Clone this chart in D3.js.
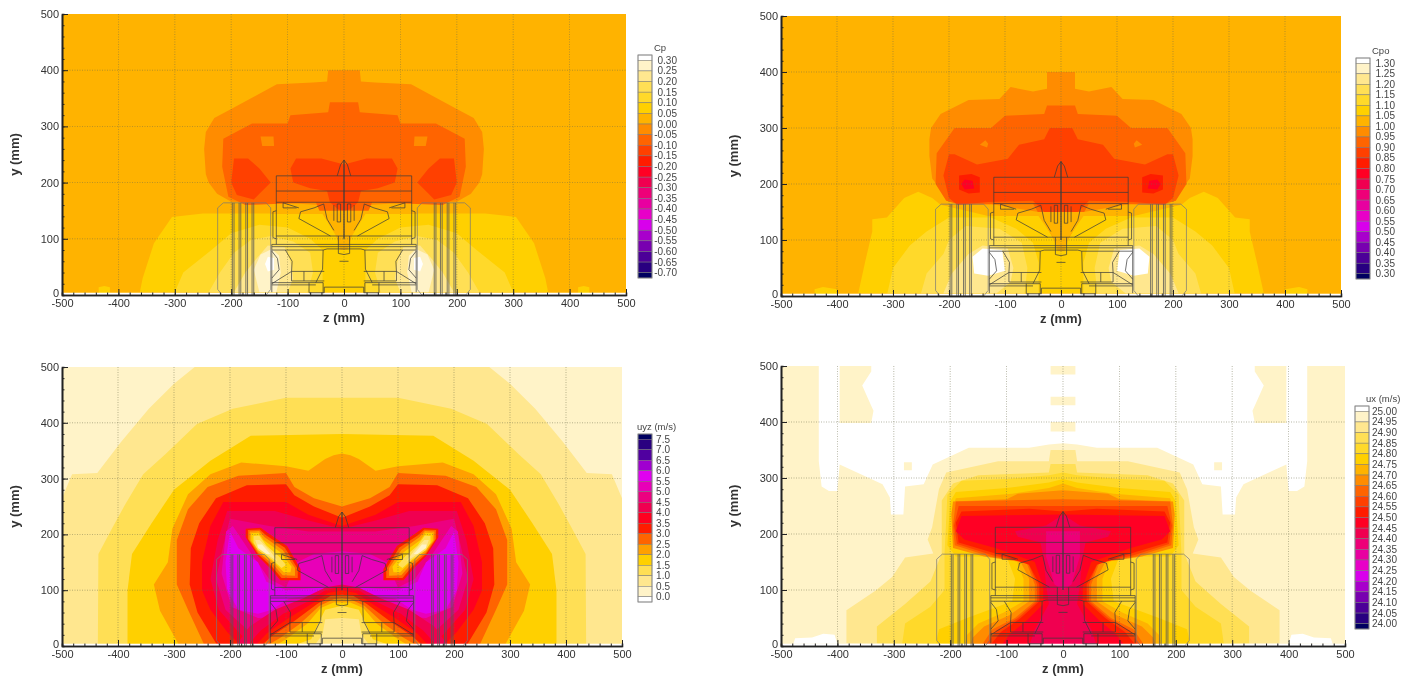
<!DOCTYPE html>
<html>
<head>
<meta charset="utf-8">
<script src="https://d3js.org/d3.v7.min.js"></script>
<style>
body { margin: 0; background: #fff; }
svg { display: block; filter: blur(0.4px); font-family: "Liberation Sans", Arial, sans-serif; }
.field { filter: blur(0.7px); }
.gridline { stroke: #6b6b4a; stroke-width: 0.7; stroke-dasharray: 1 1.5; opacity: .7; }
.xAxis path, .yAxis path { stroke: #222; stroke-width: 1.6; }
.xAxis line, .yAxis line { stroke: #222; }
.tickLabels text { fill: #333; }
</style>
</head>
<body>
<div id="rys"></div>
<script>
// tick values
var zTicks = [-500, -400, -300, -200, -100, 0, 100, 200, 300, 400, 500];
var yTicks = [0, 100, 200, 300, 400, 500];
var zMinor = d3.range(-500, 501, 20);
var yMinor = d3.range(0, 501, 20);

// legend levels, top to bottom
var cpLevels  = ["0.30","0.25","0.20","0.15","0.10","0.05","0.00","-0.05","-0.10","-0.15","-0.20","-0.25","-0.30","-0.35","-0.40","-0.45","-0.50","-0.55","-0.60","-0.65","-0.70"];
var cpoLevels = ["1.30","1.25","1.20","1.15","1.10","1.05","1.00","0.95","0.90","0.85","0.80","0.75","0.70","0.65","0.60","0.55","0.50","0.45","0.40","0.35","0.30"];
var uyzLevels = ["7.5","7.0","6.5","6.0","5.5","5.0","4.5","4.0","3.5","3.0","2.5","2.0","1.5","1.0","0.5","0.0"];
var uxLevels  = ["25.00","24.95","24.90","24.85","24.80","24.75","24.70","24.65","24.60","24.55","24.50","24.45","24.40","24.35","24.30","24.25","24.20","24.15","24.10","24.05","24.00"];

var warmToCold = ["#ffffff","#fff3c8","#ffe78f","#ffdf55","#ffd92a","#ffd000","#ffb300","#ff8c00","#ff6400","#ff4000","#ff1c00","#ff0024","#f00050","#ee0078","#e800a0","#e800c8","#d800ec","#a800cc","#7800b0","#4c0098","#280080","#000060"];
var coldToWarm = ["#000060","#2a0080","#5000a0","#a000d0","#e000f0","#e800b8","#ec0080","#f00050","#ff0020","#ff1c00","#ff6400","#ffa000","#ffd000","#ffdf55","#ffe78f","#fff3c8","#ffffff"];

// contours: right half outlines [z, y], mirrored at draw time. level = upper edge of the band
var cpContours = [
  { level: "0.05", outline: [[0,500],[500,500],[500,0],[0,0]] },
  { level: "0.10", outline: [[415,0],[415,14],[425,16],[435,14],[435,0]] },
  { level: "0.00", outline: [[0,400],[28,400],[30,380],[55,378],[119,375],[150,358],[200,331],[230,315],[245,290],[248,260],[245,215],[240,200],[225,180],[200,166],[130,165],[40,160],[30,130],[10,100],[0,95]] },
  { level: "-0.05", outline: [[0,343],[25,343],[28,325],[95,320],[100,305],[163,305],[214,278],[216,228],[205,175],[175,160],[50,165],[35,130],[12,120],[0,115]] },
  { level: "0.00", outline: [[124,265],[145,265],[148,282],[125,282]] },
  { level: "-0.10", outline: [[0,232],[40,243],[85,243],[95,225],[90,200],[60,190],[30,185],[25,165],[10,152],[0,150]] },
  { level: "-0.10", outline: [[170,243],[195,243],[200,200],[190,178],[160,170],[150,180],[130,200],[150,225]] },
  { level: "0.10", outline: [[0,100],[8,100],[18,125],[38,145],[130,145],[250,145],[305,139],[337,92],[357,30],[362,5],[0,5]] },
  { level: "0.05", outline: [[0,150],[40,150],[130,150],[130,144],[38,144],[14,105],[6,80],[0,80]] },
  { level: "0.15", outline: [[300,5],[285,40],[235,80],[200,110],[150,125],[100,120],[60,100],[38,80],[38,5]] },
  { level: "0.20", outline: [[240,5],[220,40],[195,75],[165,98],[130,105],[90,95],[60,75],[55,40],[65,5]] },
  { level: "0.25", outline: [[195,5],[175,40],[155,65],[135,88],[105,85],[95,60],[90,30],[100,5]] },
  { level: "0.30", outline: [[150,5],[160,45],[148,72],[128,82],[115,70],[112,40],[120,5]] },
  { level: null, outline: [[124,45],[135,42],[140,55],[135,68],[124,66]] }
];

var cpoContours = [
  { level: "1.05", outline: [[0,500],[500,500],[500,0],[0,0]] },
  { level: "1.10", outline: [[400,0],[400,12],[425,16],[440,12],[440,0]] },
  { level: "1.00", outline: [[0,400],[25,400],[25,370],[50,365],[90,373],[110,352],[165,350],[215,325],[232,300],[235,280],[235,250],[230,210],[215,190],[205,172],[130,165],[40,150],[15,100],[0,95]] },
  { level: "0.95", outline: [[0,340],[25,340],[30,325],[100,322],[125,300],[190,300],[222,255],[224,200],[205,170],[180,163],[50,165],[30,130],[0,125]] },
  { level: "0.90", outline: [[0,300],[20,300],[30,280],[75,270],[95,245],[150,235],[190,253],[200,253],[210,215],[200,175],[185,163],[130,168],[50,170],[30,150],[0,145]] },
  { level: "1.00", outline: [[132,265],[145,270],[135,278],[130,272]] },
  { level: "0.85", outline: [[145,185],[165,183],[182,190],[182,215],[160,218],[145,212]] },
  { level: "0.80", outline: [[155,192],[172,190],[178,200],[172,208],[158,206]] },
  { level: "1.10", outline: [[0,100],[12,100],[30,130],[40,143],[130,143],[215,163],[230,175],[255,186],[280,175],[311,140],[337,137],[337,115],[350,60],[362,5],[0,5]] },
  { level: "1.05", outline: [[0,150],[40,150],[125,150],[125,143],[40,143],[14,105],[6,80],[0,80]] },
  { level: "1.15", outline: [[310,5],[300,50],[270,90],[240,115],[200,140],[125,140],[80,120],[50,95],[40,60],[40,5]] },
  { level: "1.20", outline: [[250,5],[240,40],[210,75],[200,100],[170,125],[110,120],[70,95],[60,50],[65,5]] },
  { level: "1.25", outline: [[210,5],[195,40],[165,75],[140,90],[95,85],[85,50],[90,25],[115,5]] },
  { level: null, outline: [[100,45],[130,36],[155,40],[158,70],[140,85],[105,82]] }
];

var uyzContours = [
  { level: "0.5", outline: [[0,500],[500,500],[500,0],[0,0]] },
  { level: "1.0", outline: [[0,500],[263,500],[300,470],[345,425],[395,365],[437,310],[482,308],[500,265],[500,0],[0,0]] },
  { level: "1.5", outline: [[0,445],[100,445],[195,425],[259,398],[315,344],[355,308],[387,254],[410,212],[435,165],[436,0],[0,0]] },
  { level: "2.0", outline: [[0,380],[163,377],[235,332],[300,280],[340,220],[375,165],[383,100],[383,0],[0,0]] },
  { level: "2.5", outline: [[0,345],[15,342],[30,335],[60,314],[100,322],[180,329],[235,308],[275,272],[303,210],[311,150],[336,110],[325,63],[290,0],[0,0]] },
  { level: "3.0", outline: [[0,250],[50,265],[85,285],[100,310],[185,305],[240,285],[275,245],[295,190],[295,110],[275,65],[245,0],[0,0]] },
  { level: "3.5", outline: [[0,230],[50,250],[85,270],[100,290],[170,288],[225,265],[255,220],[270,175],[272,110],[258,60],[222,0],[0,0]] },
  { level: "4.0", outline: [[0,215],[60,235],[100,258],[212,258],[235,215],[250,150],[250,100],[235,65],[205,25],[180,0],[0,0]] },
  { level: "4.5", outline: [[0,210],[60,225],[120,242],[205,242],[222,190],[235,120],[220,65],[185,25],[160,0],[0,0]] },
  { level: "5.0", outline: [[0,205],[60,205],[130,215],[200,228],[212,180],[225,120],[208,65],[170,30],[140,30],[0,30]] },
  { level: "5.5", outline: [[0,170],[50,165],[80,150],[100,105],[130,120],[165,170],[195,215],[207,205],[215,130],[197,70],[150,50],[0,60]] },
  { level: "6.0", outline: [[150,150],[185,175],[200,205],[208,150],[205,100],[185,65],[150,58],[125,65],[95,85],[30,95],[30,105],[100,100],[135,115]] },
  { level: "3.5", outline: [[172,210],[145,212],[133,203],[98,179],[74,138],[74,118],[110,118],[127,138],[151,162],[172,195]] },
  { level: "3.0", outline: [[168,208],[147,209],[135,198],[102,176],[79,138],[79,122],[108,122],[125,142],[150,165],[168,192]] },
  { level: "2.5", outline: [[165,205],[148,206],[138,195],[106,172],[84,140],[84,126],[106,127],[123,146],[150,168],[165,190]] },
  { level: "2.0", outline: [[162,202],[149,203],[140,190],[110,168],[90,142],[92,132],[104,132],[122,150],[150,172],[162,188]] },
  { level: "1.5", outline: [[158,197],[148,198],[135,180],[112,160],[100,145],[108,140],[125,155],[150,172],[158,185]] },
  { level: "1.0", outline: [[155,190],[147,190],[128,170],[115,152],[125,158],[150,175]] },
  { level: "0.5", outline: [[151,182],[143,182],[128,165],[135,165],[150,176]] },
  { level: "4.5", outline: [[0,110],[30,105],[70,85],[120,65],[165,35],[190,0],[0,0]] },
  { level: "4.0", outline: [[0,106],[30,100],[60,80],[105,58],[145,28],[170,0],[0,0]] },
  { level: "3.5", outline: [[0,100],[25,95],[50,78],[95,50],[135,22],[155,0],[0,0]] },
  { level: "3.0", outline: [[0,92],[20,90],[45,75],[85,45],[125,18],[145,0],[0,0]] },
  { level: "2.5", outline: [[0,86],[15,84],[40,72],[75,40],[110,15],[135,0],[0,0]] },
  { level: "2.0", outline: [[0,78],[15,78],[38,68],[62,40],[100,12],[120,0],[0,0]] },
  { level: "1.5", outline: [[0,72],[30,65],[45,35],[55,12],[90,0],[0,0]] },
  { level: "1.0", outline: [[0,50],[30,48],[35,20],[50,0],[0,0]] }
];

var uxContours = [
  { level: "25.00", outline: [[0,500],[500,500],[500,0],[0,0]] },
  { level: null, outline: [[0,500],[340,500],[340,490],[356,465],[345,440],[336,420],[340,398],[396,398],[396,500],[433,500],[433,330],[428,285],[415,277],[400,277],[396,324],[320,289],[307,265],[305,235],[283,235],[280,285],[247,289],[231,324],[167,354],[60,354],[25,360],[0,362]] },
  { level: null, outline: [[400,4],[405,20],[425,22],[445,15],[475,14],[478,4]] },
  { level: "25.00", outline: [[0,500],[22,500],[22,485],[0,485]] },
  { level: "25.00", outline: [[0,445],[22,445],[22,430],[0,430]] },
  { level: "25.00", outline: [[0,400],[22,400],[22,383],[0,383]] },
  { level: "25.00", outline: [[268,314],[282,314],[282,328],[268,328]] },
  { level: "24.95", outline: [[0,350],[22,350],[25,330],[115,330],[207,310],[220,280],[232,212],[240,190],[230,165],[280,158],[303,123],[332,99],[384,64],[384,5],[0,0]] },
  { level: "24.90", outline: [[0,325],[22,325],[25,310],[150,305],[195,290],[215,260],[215,165],[235,115],[280,75],[330,35],[330,5],[0,0]] },
  { level: "24.85", outline: [[0,310],[25,305],[100,298],[180,295],[205,270],[210,165],[210,100],[235,70],[280,40],[285,5],[0,0]] },
  { level: "24.80", outline: [[0,298],[25,292],[100,282],[190,275],[200,258],[205,180],[190,160],[100,160],[85,120],[90,80],[170,50],[220,30],[225,5],[0,0]] },
  { level: "24.75", outline: [[0,290],[25,282],[90,272],[190,264],[197,240],[195,180],[150,165],[85,160],[70,120],[70,80],[105,60],[150,40],[170,20],[175,0],[0,0]] },
  { level: "24.70", outline: [[0,278],[80,272],[100,262],[195,258],[198,235],[195,175],[140,160],[75,150],[60,120],[60,80],[95,55],[140,35],[160,15],[165,0],[0,0]] },
  { level: "24.65", outline: [[0,262],[190,258],[195,215],[192,180],[130,160],[65,150],[50,110],[50,80],[85,50],[125,30],[145,0],[0,0]] },
  { level: "24.60", outline: [[0,250],[185,250],[193,215],[188,182],[125,162],[62,148],[46,110],[46,80],[80,50],[118,28],[138,0],[0,0]] },
  { level: "24.55", outline: [[0,240],[60,245],[180,240],[190,220],[185,185],[120,165],[60,145],[42,110],[42,80],[75,50],[110,25],[130,0],[0,0]] },
  { level: "24.50", outline: [[0,235],[180,232],[190,205],[175,190],[120,175],[50,150],[35,105],[35,75],[65,45],[95,20],[110,0],[0,0]] },
  { level: "24.45", outline: [[0,235],[30,215],[85,205],[80,195],[40,185],[35,160],[30,110],[25,75],[50,30],[60,0],[0,0]] },
  { level: "24.40", outline: [[0,205],[30,205],[30,160],[15,110],[0,100]] }
];

// car wireframe, right half, [z, y] polylines
var carLines = [
  [[0,240],[6,232],[12,212]], [[0,240],[0,100]],
  [[0,212],[120,212],[120,90]], [[0,185],[120,185]], [[0,165],[120,165]],
  [[0,105],[120,105]], [[0,90],[128,90]], [[0,86],[128,86]], [[128,90],[128,5]],
  [[120,150],[126,148],[126,102],[120,100]], [[80,155],[108,164]], [[108,164],[108,155],[84,155]],
  [[10,105],[10,74],[0,72]],
  [[37,80],[30,82],[0,82]], [[37,80],[38,46],[50,22]], [[8,60],[0,60]],
  [[35,42],[93,42],[93,25],[35,25]], [[71,42],[71,25]], [[93,42],[128,20]],
  [[37,22],[128,22]], [[50,18],[128,18]],
  [[62,22],[62,4],[35,4]], [[35,14],[0,14]], [[35,4],[35,14]], [[37,22],[37,4]],
  [[18,115],[30,135],[36,162]], [[24,105],[80,136],[77,148],[53,155],[36,162]],
  [[104,80],[92,60],[93,42]], [[128,78],[118,65],[115,45],[128,30]], [[128,80],[37,80]],
  [[6,130],[6,162],[12,162],[12,130],[6,130]], [[18,132],[18,160]]
];
var wheelOutline = [[130,10],[130,155],[138,164],[214,164],[224,155],[224,10],[216,0],[138,0],[130,10]];
var wheelTread = [160, 163, 171, 174, 183, 186, 195, 198];

var panels = [
  { title: "Cp",  levels: cpLevels,  contours: cpContours,  colors: warmToCold, left: 62,  right: 626,  top: 14,  bottom: 295, legX: 638,  legTop: 55,  legBottom: 278, labelDx: 39, titleDx: 16 },
  { title: "Cpo", levels: cpoLevels, contours: cpoContours, colors: warmToCold, left: 781, right: 1341, top: 16,  bottom: 296, legX: 1356, legTop: 58,  legBottom: 279, labelDx: 39, titleDx: 16 },
  { title: "uyz (m/s)", levels: uyzLevels, contours: uyzContours, colors: coldToWarm, left: 62,  right: 622,  top: 367, bottom: 646, legX: 638,  legTop: 434, legBottom: 602, labelDx: 32, titleDx: -1 },
  { title: "ux (m/s)",  levels: uxLevels,  contours: uxContours,  colors: warmToCold, left: 781, right: 1345, top: 366, bottom: 646, legX: 1355, legTop: 406, legBottom: 629, labelDx: 42, titleDx: 11 }
];

var svg = d3.select("#rys").append("svg").attr("width", 1413).attr("height", 677);

panels.forEach(function (p, idx) {

  var xscale = d3.scaleLinear().domain([-500, 500]).range([p.left, p.right]);
  var yscale = d3.scaleLinear().domain([0, 500]).range([p.bottom, p.top]);
  var line = d3.line().x(function (d) { return xscale(d[0]) }).y(function (d) { return yscale(d[1]) });

  function mirror(pts) { return pts.map(function (d) { return [-d[0], d[1]] }) }

  function contourPath(pts) {
    if (pts[0][0] == 0) return line(pts.concat(mirror(pts).reverse())) + "Z";
    return line(pts) + "Z" + line(mirror(pts)) + "Z";
  }

  function bandColor(level) {
    return level === null ? "#ffffff" : p.colors[p.levels.indexOf(level) + 1];
  }

  svg.append("clipPath").attr("id", "clip" + idx).append("rect")
    .attr("x", p.left).attr("y", p.top)
    .attr("width", p.right - p.left).attr("height", yscale(4) - p.top);

  var field = svg.append("g").attr("clip-path", "url(#clip" + idx + ")").append("g").attr("class", "field");
  field.selectAll("path").data(p.contours).enter().append("path")
    .attr("d", function (d) { return contourPath(d.outline) })
    .attr("fill", function (d) { return bandColor(d.level) });

  svg.append("g").selectAll("line").data(zTicks.slice(1, -1)).enter().append("line")
    .attr("class", "gridline")
    .attr("x1", function (d) { return xscale(d) }).attr("x2", function (d) { return xscale(d) })
    .attr("y1", p.top).attr("y2", p.bottom);
  svg.append("g").selectAll("line").data(yTicks.slice(1, -1)).enter().append("line")
    .attr("class", "gridline")
    .attr("x1", p.left).attr("x2", p.right)
    .attr("y1", function (d) { return yscale(d) }).attr("y2", function (d) { return yscale(d) });

  // car
  var car = svg.append("g").attr("fill", "none");
  carLines.forEach(function (l) {
    [l, mirror(l)].forEach(function (s) {
      car.append("path").attr("d", line(s)).attr("stroke", "#3a3a3a").attr("stroke-width", 0.9).attr("opacity", .8);
    });
  });
  [wheelOutline, mirror(wheelOutline)].forEach(function (s) {
    car.append("path").attr("d", line(s)).attr("stroke", "#777").attr("stroke-width", 0.7);
  });
  wheelTread.forEach(function (z) {
    [z, -z].forEach(function (v) {
      car.append("path").attr("d", line([[v, 0], [v, 164]])).attr("stroke", "#555").attr("stroke-width", 0.8);
    });
  });

  // axes
  svg.append("g").attr("class", "xAxis").attr("transform", "translate(0," + p.bottom + ")")
    .call(d3.axisBottom(xscale).tickValues(zMinor).tickSize(-2.5).tickFormat(""));
  var xMaj = svg.append("g").attr("class", "xAxis tickLabels").attr("transform", "translate(0," + p.bottom + ")")
    .call(d3.axisBottom(xscale).tickValues(zTicks).tickSizeInner(-6).tickSizeOuter(0).tickPadding(4).tickFormat(function (d) { return String(d) }));
  xMaj.selectAll("text").style("font-size", "11px");
  svg.append("g").attr("class", "yAxis").attr("transform", "translate(" + p.left + ",0)")
    .call(d3.axisLeft(yscale).tickValues(yMinor).tickSize(-2.5).tickFormat(""));
  var yMaj = svg.append("g").attr("class", "yAxis tickLabels").attr("transform", "translate(" + p.left + ",0)")
    .call(d3.axisLeft(yscale).tickValues(yTicks).tickSizeInner(-6).tickSizeOuter(0).tickPadding(3));
  yMaj.selectAll("text").style("font-size", "11px");
  yMaj.selectAll("text").filter(function (d) { return d == 0 }).attr("dy", "0.1em");

  svg.append("text").text("z (mm)")
    .attr("x", (p.left + p.right) / 2).attr("y", p.bottom + 27)
    .attr("text-anchor", "middle").style("font-size", "13px").style("font-weight", "bold").attr("fill", "#333");
  svg.append("text").text("y (mm)")
    .attr("transform", "translate(" + (p.left - 43) + "," + ((p.top + p.bottom) / 2) + ")rotate(-90)")
    .attr("text-anchor", "middle").style("font-size", "13px").style("font-weight", "bold").attr("fill", "#333");

  // legend: end bands are half the height of the others
  var n = p.levels.length;
  var legScale = d3.scalePoint().domain(p.levels).range([p.legTop, p.legBottom]).padding(0.5);
  var leg = svg.append("g");
  p.colors.forEach(function (c, i) {
    var y0 = i == 0 ? p.legTop : legScale(p.levels[i - 1]);
    var y1 = i == n ? p.legBottom : legScale(p.levels[i]);
    leg.append("rect").attr("x", p.legX).attr("width", 14).attr("y", y0).attr("height", y1 - y0)
      .attr("fill", c).attr("stroke", "#777").attr("stroke-width", 0.5);
  });
  leg.append("rect").attr("x", p.legX).attr("width", 14).attr("y", p.legTop).attr("height", p.legBottom - p.legTop)
    .attr("fill", "none").attr("stroke", "#888").attr("stroke-width", 0.8);
  leg.selectAll("text.lev").data(p.levels).enter().append("text").attr("class", "lev")
    .attr("x", p.legX + p.labelDx).attr("y", function (d) { return legScale(d) + 3.5 })
    .attr("text-anchor", "end").attr("fill", "#444").style("font-size", "10px").text(function (d) { return d });
  leg.append("text").text(p.title)
    .attr("x", p.legX + p.titleDx).attr("y", p.legTop - 4)
    .attr("fill", "#444").style("font-size", "9.5px");
});
</script>
</body>
</html>
